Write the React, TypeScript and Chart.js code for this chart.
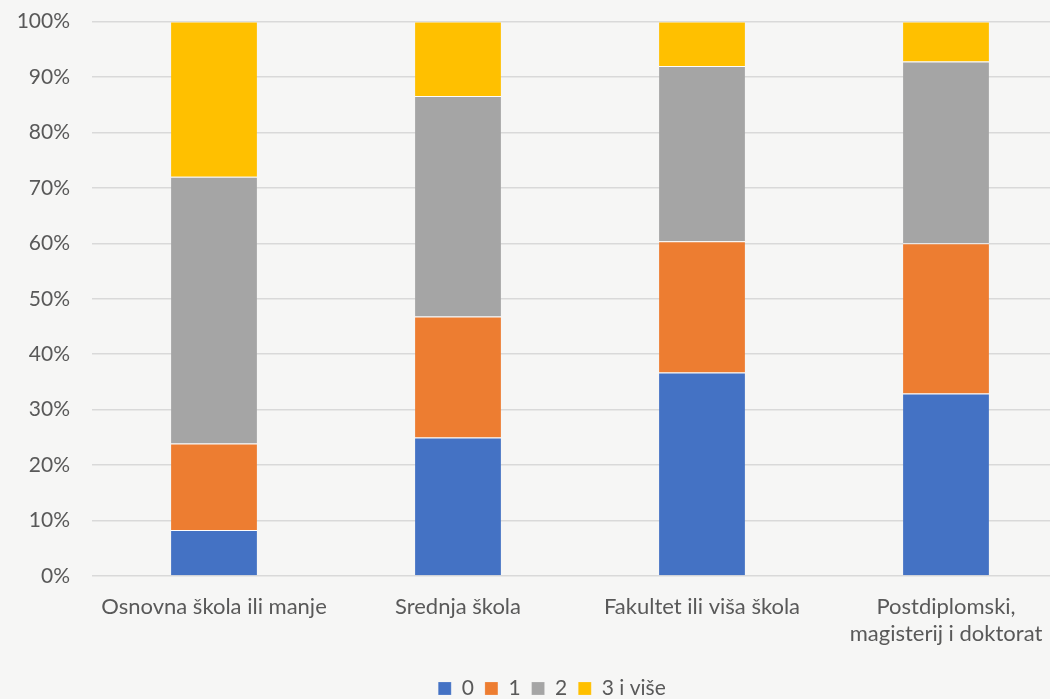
import React, { useEffect, useRef } from "react";
import { Chart, registerables } from "chart.js";

Chart.register(...registerables);

const categories = [
  "Osnovna škola ili manje",
  "Srednja škola",
  "Fakultet ili viša škola",
  ["Postdiplomski,", "magisterij i doktorat"],
];
const seriesNames = ["0", "1", "2", "3 i više"];
const s0 = [8.3, 25.0, 36.7, 32.9];
const s1 = [15.6, 21.8, 23.7, 27.1];
const s2 = [48.1, 39.8, 31.6, 32.8];
const s3 = [28.0, 13.4, 8.0, 7.2];
const colors = ["#4472C4", "#ED7D31", "#A5A5A5", "#FFC000"];
const yTicks = [0, 10, 20, 30, 40, 50, 60, 70, 80, 90, 100];

export default function App() {
  const ref = useRef<HTMLCanvasElement | null>(null);
  useEffect(() => {
    document.body.style.margin = "0";
    document.body.style.overflow = "hidden";
    const ctx = ref.current!;
    const font = "Lato, 'Open Sans', sans-serif";
    const chart = new Chart(ctx, {
      type: "bar",
      data: {
        labels: categories as any,
        datasets: [s0, s1, s2, s3].map((d, i) => ({
          label: seriesNames[i],
          data: d,
          backgroundColor: colors[i],
          borderColor: "rgba(255,255,255,0.75)",
          borderWidth: { top: 1, bottom: 0, left: 0, right: 0 } as any,
          borderSkipped: false as any,
          barPercentage: 0.352,
          categoryPercentage: 1,
        })),
      },
      options: {
        animation: false,
        responsive: false,
        maintainAspectRatio: false,
        layout: { padding: { top: 0, right: 0, left: 0, bottom: -10 } },
        plugins: {
          legend: {
            position: "bottom",
            labels: {
              boxWidth: 13,
              boxHeight: 13,
              padding: 11,
              color: "#595959",
              font: { family: font, size: 21 },
            },
          },
          tooltip: { enabled: false },
        },
        scales: {
          x: {
            stacked: true,
            grid: { display: false },
            border: { display: false },
            ticks: {
              color: "#595959",
              font: { family: font, size: 22 },
              maxRotation: 0,
              autoSkip: false,
              padding: 10,
            },
            afterFit: (s: any) => {
              s.height = 91;
            },
          },
          y: {
            stacked: true,
            min: 0,
            max: 100,
            afterBuildTicks: (s: any) => {
              s.ticks = yTicks.map((v) => ({ value: v }));
            },
            grid: { color: "#d9d9d9", lineWidth: 1.5, drawTicks: false },
            border: { display: false },
            ticks: {
              color: "#595959",
              font: { family: font, size: 21 },
              padding: 22,
              callback: (v: any) => v + "%",
            },
            afterFit: (s: any) => {
              s.width = 92;
            },
          },
          yRight: {
            type: "linear",
            position: "right",
            display: true,
            min: 0,
            max: 100,
            grid: { display: false, drawTicks: false },
            border: { display: false },
            ticks: { display: false },
            afterFit: (s: any) => {
              s.width = 36;
            },
          },
        },
      },
    });
    return () => chart.destroy();
  }, []);
  return (
    <div
      style={{
        position: "fixed",
        left: 0,
        top: 0,
        width: 1050,
        height: 699,
        overflow: "hidden",
        background: "#f6f6f5",
      }}
    >
      <canvas
        ref={ref}
        width={1104}
        height={712}
        style={{ position: "absolute", left: 0, top: -13, width: 1104, height: 712 }}
      />
    </div>
  );
}
